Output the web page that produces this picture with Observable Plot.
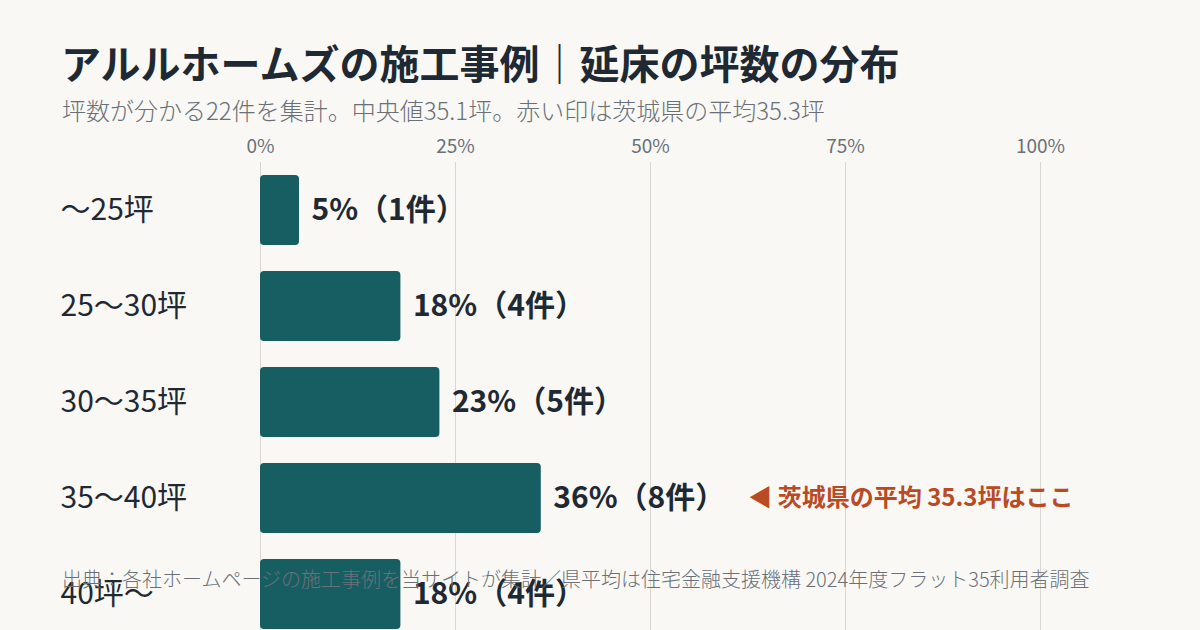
<!DOCTYPE html>
<html><head><meta charset="utf-8">
<script src="https://cdn.jsdelivr.net/npm/d3@7"></script>
<script src="https://cdn.jsdelivr.net/npm/@observablehq/plot@0.6"></script>
<style>
html,body{margin:0;padding:0;background:#f9f8f5;width:1200px;height:630px;overflow:hidden;font-family:"Noto Sans CJK JP","Noto Sans",sans-serif;}
#wrap{position:relative;width:1200px;height:630px;}
#title{position:absolute;left:61px;top:38px;font-size:40px;font-weight:700;color:#1f2933;white-space:nowrap;line-height:1.2;}
#sub{position:absolute;left:62px;top:96px;font-size:24px;font-weight:300;color:#6b7078;white-space:nowrap;line-height:1.2;}
#chart{position:absolute;left:0;top:125px;}
#cap{position:absolute;left:62px;top:567px;font-size:20px;font-weight:300;color:#6b7078;white-space:nowrap;line-height:1.2;}
</style></head>
<body><div id="wrap">
<div id="title">アルルホームズの施工事例｜延床の坪数の分布</div>
<div id="sub">坪数が分かる22件を集計。中央値35.1坪。赤い印は茨城県の平均35.3坪</div>
<div id="chart"></div>
<div id="cap">出典：各社ホームページの施工事例を当サイトが集計／県平均は住宅金融支援機構 2024年度フラット35利用者調査</div>
</div>
<script>
const categories = ["〜25坪", "25〜30坪", "30〜35坪", "35〜40坪", "40坪〜"];
const percents = [5, 18, 23, 36, 18];
const counts = [1, 4, 5, 8, 4];
const xTicks = [0, 25, 50, 75, 100];
const annotationRow = "35〜40坪";
const annotationText = "◀ 茨城県の平均 35.3坪はここ";

const data = categories.map((c, i) => ({cat: c, pct: percents[i], n: counts[i], label: `${percents[i]}%（${counts[i]}件）`}));
const ann = data.filter(d => d.cat === annotationRow).map(d => ({...d, text: annotationText}));

const chart = Plot.plot({
  width: 1200,
  height: 520,
  marginTop: 37,
  marginBottom: 3,
  marginLeft: 260,
  marginRight: 160,
  style: {background: "transparent", fontFamily: "'Noto Sans CJK JP', sans-serif"},
  x: {domain: [0, 100], axis: null},
  y: {domain: categories, axis: null, paddingInner: 0.27, paddingOuter: 0.135},
  marks: [
    Plot.gridX(xTicks, {stroke: "#d9d7d2", strokeOpacity: 1, strokeWidth: 1}),
    Plot.axisX({anchor: "top", ticks: xTicks, tickFormat: d => d + "%", tickSize: 0, tickPadding: 10, fontSize: 19, fill: "#6b7078", label: null}),
    Plot.barX(data, {x: "pct", y: "cat", fill: "#175e63", rx: 4}),
    Plot.text(data, {x: 0, y: "cat", text: "cat", textAnchor: "start", dx: -200, fontSize: 30, fill: "#1f2933"}),
    Plot.text(data, {x: "pct", y: "cat", text: "label", textAnchor: "start", dx: 12, fontSize: 30, fontWeight: 700, fill: "#1f2933"}),
    Plot.text(ann, {x: "pct", y: "cat", text: "text", textAnchor: "start", dx: 207, fontSize: 24, fontWeight: 700, fill: "#b94a24"})
  ]
});
document.getElementById("chart").appendChild(chart);
</script>
</body></html>
